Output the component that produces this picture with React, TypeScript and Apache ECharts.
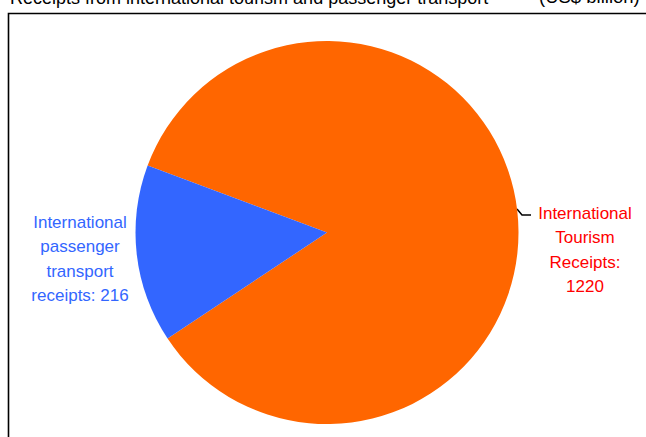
import React, { useEffect, useRef } from "react";
import * as echarts from "echarts";

const categories = ["International Tourism Receipts", "International passenger transport receipts"];
const values = [1220, 216];
const labelTexts = ["International\nTourism\nReceipts:\n1220", "International\npassenger\ntransport\nreceipts: 216"];
const colors = ["#FF6600", "#3366FF"];
const labelColors = ["#FF0000", "#3366FF"];
const titleText = "Receipts from international tourism and passenger transport";
const unitText = "(US$ billion)";

export default function App() {
  const ref = useRef<HTMLDivElement>(null);
  useEffect(() => {
    if (!ref.current) return;
    const chart = echarts.init(ref.current, null, { renderer: "svg" });
    const font = "Liberation Sans, Arial, sans-serif";
    chart.setOption({
      animation: false,
      graphic: [
        {
          type: "rect",
          shape: { x: 8.5, y: 13.5, width: 700, height: 500 },
          style: { fill: "none", stroke: "#000", lineWidth: 1.6 },
          z: 0,
        },
        {
          type: "text",
          x: 10,
          y: -11,
          style: { text: titleText, fontSize: 18, fontFamily: font, fill: "#000" },
        },
        {
          type: "text",
          x: 539,
          y: -13,
          style: { text: unitText, fontSize: 18.5, fontFamily: font, fill: "#000" },
        },
      ],
      series: [
        {
          type: "pie",
          center: [327, 232.5],
          radius: 191.5,
          startAngle: 159.5,
          clockwise: true,
          data: categories.map((name, i) => ({
            name,
            value: values[i],
            itemStyle: { color: colors[i] },
            label: {
              formatter: labelTexts[i],
              color: labelColors[i],
            },
            labelLine: { show: i === 0 },
          })),
          label: {
            show: true,
            position: "outside",
            fontSize: 17,
            lineHeight: 24.5,
            fontFamily: font,
          },
          labelLine: {
            show: true,
            length: 6,
            length2: 10,
            lineStyle: { color: "#000", width: 1.5 },
          },
          labelLayout: (params: any) => {
            if (params.dataIndex === 0) {
              return {
                x: 585,
                y: 250,
                align: "center",
                verticalAlign: "middle",
                labelLinePoints: [
                  [517, 209],
                  [522, 215],
                  [531, 215],
                ],
              };
            }
            return { x: 80, y: 259, align: "center", verticalAlign: "middle" };
          },
        },
      ],
    });
    return () => chart.dispose();
  }, []);
  return (
    <div
      ref={ref}
      style={{ position: "fixed", left: 0, top: 0, width: 646, height: 437, background: "#fff" }}
    />
  );
}
